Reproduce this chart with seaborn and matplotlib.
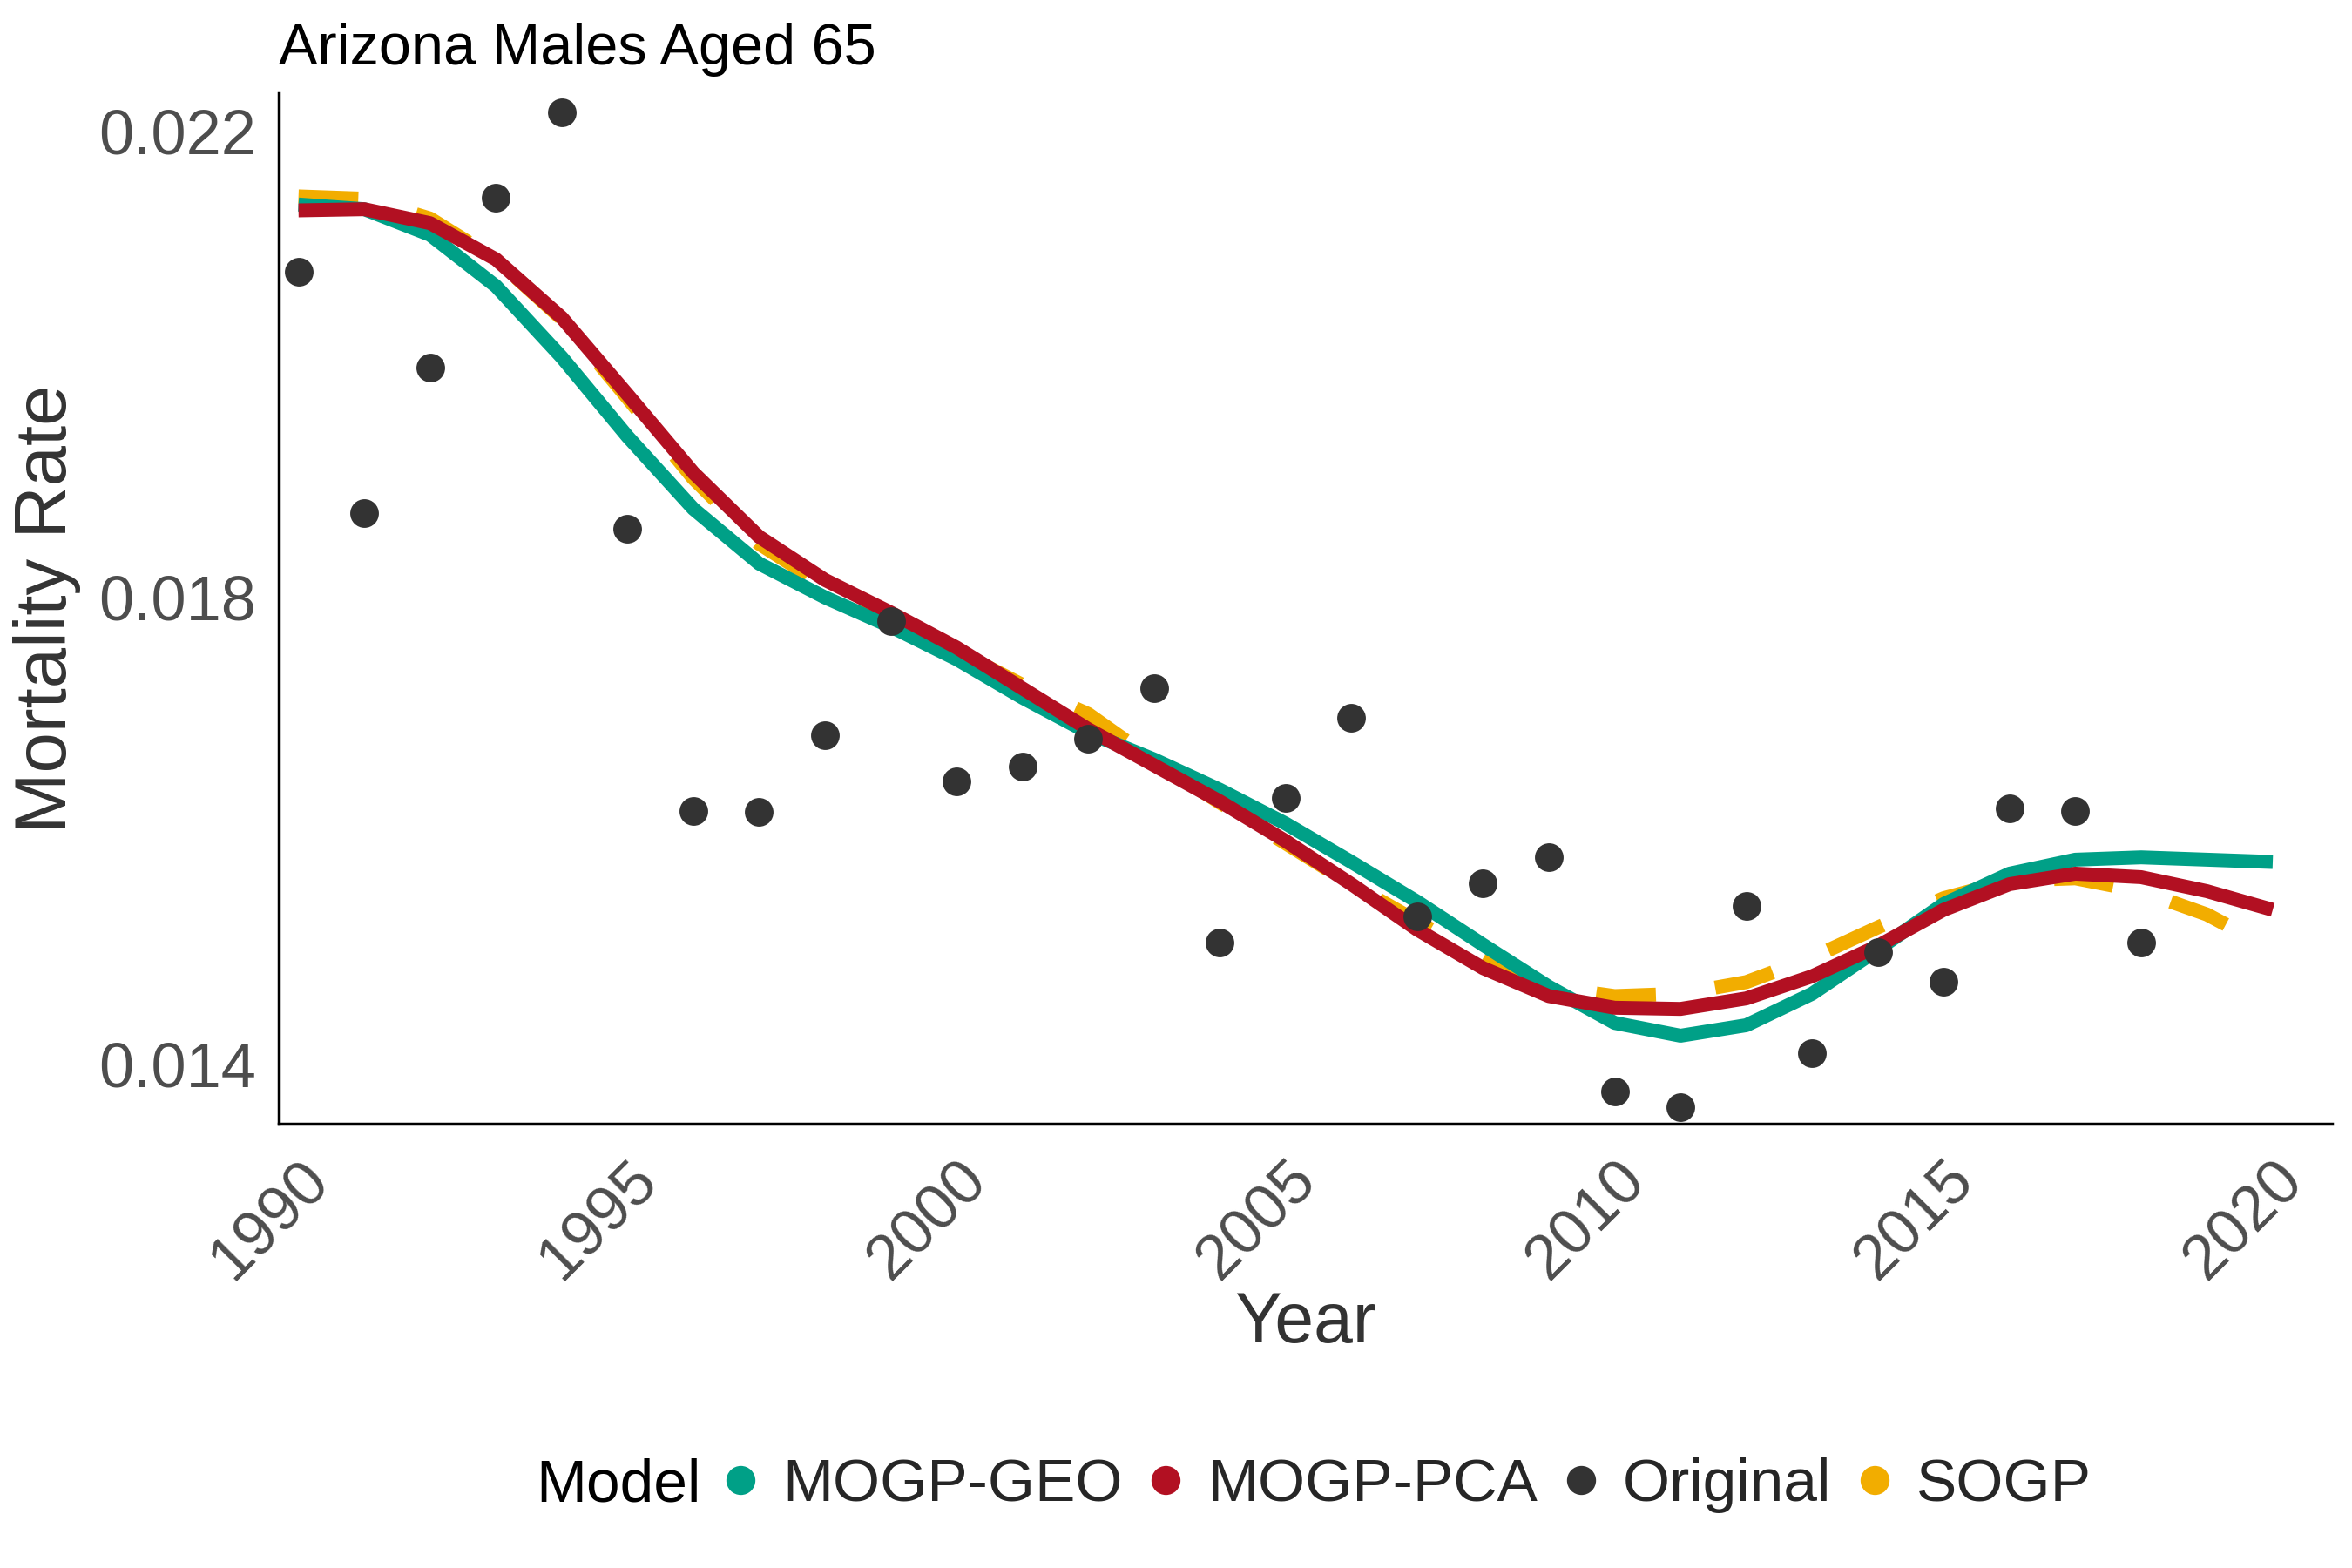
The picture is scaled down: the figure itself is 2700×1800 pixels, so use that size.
import numpy as np
import pandas as pd
import matplotlib
matplotlib.use('Agg')
import matplotlib.pyplot as plt
import seaborn as sns
from matplotlib.lines import Line2D

# data
years = list(range(1990, 2021))
orig_years = list(range(1990, 2019))
original = [0.02079, 0.01872, 0.01997, 0.02143, 0.02216, 0.01859, 0.01617, 0.01616,
            0.01682, 0.01780, 0.01642, 0.01655, 0.01679, 0.01722, 0.01504, 0.01628,
            0.01697, 0.01526, 0.01555, 0.01577, 0.01376, 0.01363, 0.01535, 0.01409,
            0.01496, 0.01470, 0.01619, 0.01617, 0.01504]
mogp_geo = [0.02137, 0.02133, 0.02111, 0.02067, 0.02006, 0.01938, 0.01876, 0.01829,
            0.01800, 0.01775, 0.01747, 0.01714, 0.01684, 0.01661, 0.01635, 0.01606,
            0.01573, 0.01539, 0.01502, 0.01466, 0.01435, 0.01424, 0.01433, 0.01460,
            0.01498, 0.01537, 0.01563, 0.01575, 0.01577, 0.01575, 0.01573]
mogp_pca = [0.02132, 0.02133, 0.02121, 0.02090, 0.02040, 0.01974, 0.01907, 0.01852,
            0.01815, 0.01787, 0.01757, 0.01722, 0.01687, 0.01656, 0.01625, 0.01591,
            0.01554, 0.01515, 0.01482, 0.01458, 0.01448, 0.01447, 0.01456, 0.01475,
            0.01501, 0.01532, 0.01554, 0.01563, 0.01560, 0.01548, 0.01532]
sogp = [0.02144, 0.02142, 0.02125, 0.02090, 0.02039, 0.01971, 0.01902, 0.01846,
        0.01810, 0.01783, 0.01754, 0.01725, 0.01700, 0.01660, 0.01624, 0.01589,
        0.01554, 0.01522, 0.01490, 0.01466, 0.01458, 0.01460, 0.01470, 0.01491,
        0.01517, 0.01542, 0.01557, 0.01559, 0.01548, 0.01528, 0.01498]

models = ['MOGP-GEO', 'MOGP-PCA', 'Original', 'SOGP']
colors = {'MOGP-GEO': '#00A087', 'MOGP-PCA': '#B21022', 'Original': '#333333', 'SOGP': '#F2AD00'}

fits = pd.DataFrame({
    'Year': years * 3,
    'Rate': sogp + mogp_geo + mogp_pca,
    'Model': ['SOGP'] * len(years) + ['MOGP-GEO'] * len(years) + ['MOGP-PCA'] * len(years),
})
obs = pd.DataFrame({'Year': orig_years, 'Rate': original})

sns.set_style('white')
plt.rcParams['font.family'] = ['Liberation Sans', 'DejaVu Sans']

fig = plt.figure(figsize=(27, 18), dpi=100)
ax = fig.add_axes([320 / 2700, 1 - 1290 / 1800, (2677 - 320) / 2700, (1290 - 107) / 1800])

sns.lineplot(data=fits, x='Year', y='Rate', hue='Model', style='Model',
             hue_order=['SOGP', 'MOGP-GEO', 'MOGP-PCA'],
             palette=colors,
             dashes={'SOGP': (4.3, 4.3), 'MOGP-GEO': '', 'MOGP-PCA': ''},
             linewidth=11.5, legend=False, ax=ax)
for ln in ax.get_lines():
    ln.set_solid_capstyle('butt')
    ln.set_dash_capstyle('butt')

sns.scatterplot(data=obs, x='Year', y='Rate', color=colors['Original'], s=560,
                linewidth=0, legend=False, ax=ax, zorder=5)

ax.set_xlim(1989.70, 2020.90)
ax.set_ylim(0.013485, 0.022325)
ax.set_xticks([1990, 1995, 2000, 2005, 2010, 2015, 2020])
ax.set_yticks([0.014, 0.018, 0.022])
ax.set_yticklabels(['0.014', '0.018', '0.022'])

ax.tick_params(axis='both', length=7, width=1.4, color='#B3B3B3',
               labelsize=52, labelcolor='#4D4D4D')
ax.tick_params(axis='y', pad=12)
ax.tick_params(axis='x', pad=15)
for lab in ax.get_xticklabels():
    lab.set_rotation(45)
    lab.set_ha('right')
    lab.set_va('top')
    lab.set_rotation_mode('anchor')

sns.despine(ax=ax)
for sp in ['left', 'bottom']:
    ax.spines[sp].set_color('black')
    ax.spines[sp].set_linewidth(2.5)

ax.set_xlabel('Year', fontsize=58, color='#333333', labelpad=0)
ax.set_ylabel('Mortality Rate', fontsize=60, color='#333333', labelpad=14)
ax.set_title('Arizona Males Aged 65', loc='left', fontsize=48, color='black', pad=24)

handles = [Line2D([], [], linestyle='none', marker='o', markersize=24,
                  markerfacecolor=colors[m], markeredgewidth=0) for m in models]
leg = fig.legend(handles, models, loc='center left', bbox_to_anchor=(829 / 2700, 1 - 1705 / 1800),
                 ncol=4, frameon=False, fontsize=50, handlelength=0.6, handletextpad=0.39,
                 columnspacing=0.42, borderpad=0, borderaxespad=0)
fig.text(805 / 2700, 1 - 1705 / 1800, 'Model', ha='right', va='center', fontsize=50, color='black')

fig.savefig('out.png', dpi=100)
